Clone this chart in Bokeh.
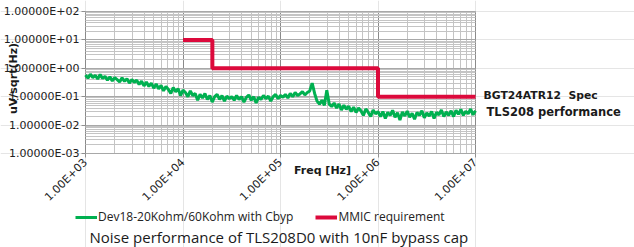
import math
from bokeh.plotting import figure
from bokeh.models import (FixedTicker, Legend, LegendItem, Label, LogAxis, Grid,
                          Range1d)
from bokeh.embed import file_html
from bokeh.resources import INLINE

# ---------------- data ----------------
noise_freq = [
    1.000e3, 1.059e3, 1.122e3, 1.189e3, 1.259e3, 1.334e3, 1.413e3, 1.496e3, 1.585e3, 1.679e3,
    1.778e3, 1.884e3, 1.995e3, 2.113e3, 2.239e3, 2.371e3, 2.512e3, 2.661e3, 2.818e3, 2.985e3,
    3.162e3, 3.350e3, 3.548e3, 3.758e3, 3.981e3, 4.217e3, 4.467e3, 4.732e3, 5.012e3, 5.309e3,
    5.623e3, 5.957e3, 6.310e3, 6.683e3, 7.079e3, 7.499e3, 7.943e3, 8.414e3, 8.913e3, 9.441e3,
    1.000e4, 1.059e4, 1.122e4, 1.189e4, 1.259e4, 1.334e4, 1.413e4, 1.496e4, 1.585e4, 1.679e4,
    1.778e4, 1.884e4, 1.995e4, 2.113e4, 2.239e4, 2.371e4, 2.512e4, 2.661e4, 2.818e4, 2.985e4,
    3.162e4, 3.350e4, 3.548e4, 3.758e4, 3.981e4, 4.217e4, 4.467e4, 4.732e4, 5.012e4, 5.309e4,
    5.623e4, 5.957e4, 6.310e4, 6.683e4, 7.079e4, 7.499e4, 7.943e4, 8.414e4, 8.913e4, 9.441e4,
    1.000e5, 1.059e5, 1.122e5, 1.189e5, 1.259e5, 1.334e5, 1.413e5, 1.496e5, 1.585e5, 1.679e5,
    1.778e5, 1.884e5, 1.995e5, 2.113e5, 2.239e5, 2.371e5, 2.512e5, 2.661e5, 2.818e5, 2.985e5,
    3.162e5, 3.350e5, 3.548e5, 3.758e5, 3.981e5, 4.217e5, 4.467e5, 4.732e5, 5.012e5, 5.309e5,
    5.623e5, 5.957e5, 6.310e5, 6.683e5, 7.079e5, 7.499e5, 7.943e5, 8.414e5, 8.913e5, 9.441e5,
    1.000e6, 1.059e6, 1.122e6, 1.189e6, 1.259e6, 1.334e6, 1.413e6, 1.496e6, 1.585e6, 1.679e6,
    1.778e6, 1.884e6, 1.995e6, 2.113e6, 2.239e6, 2.371e6, 2.512e6, 2.661e6, 2.818e6, 2.985e6,
    3.162e6, 3.350e6, 3.548e6, 3.758e6, 3.981e6, 4.217e6, 4.467e6, 4.732e6, 5.012e6, 5.309e6,
    5.623e6, 5.957e6, 6.310e6, 6.683e6, 7.079e6, 7.499e6, 7.943e6, 8.414e6, 8.913e6, 9.441e6,
    1.000e7,
]

noise_uv = [
    0.58, 0.45, 0.62, 0.47, 0.56, 0.42, 0.60, 0.44, 0.52, 0.38,
    0.50, 0.36, 0.47, 0.40, 0.33, 0.46, 0.35, 0.43, 0.30, 0.40,
    0.32, 0.38, 0.27, 0.35, 0.24, 0.33, 0.23, 0.30, 0.20, 0.28,
    0.19, 0.25, 0.16, 0.23, 0.18, 0.13, 0.21, 0.15, 0.19, 0.11,
    0.17, 0.14, 0.10, 0.16, 0.11, 0.13, 0.075, 0.12, 0.09, 0.13,
    0.08, 0.11, 0.065, 0.10, 0.12, 0.08, 0.11, 0.07, 0.105, 0.085,
    0.10, 0.075, 0.11, 0.08, 0.10, 0.065, 0.095, 0.115, 0.075, 0.10,
    0.06, 0.095, 0.08, 0.11, 0.085, 0.105, 0.07, 0.10, 0.12, 0.085,
    0.11, 0.095, 0.12, 0.09, 0.13, 0.10, 0.14, 0.11, 0.125, 0.15,
    0.115, 0.14, 0.16, 0.30, 0.13, 0.07, 0.055, 0.075, 0.05, 0.17,
    0.055, 0.045, 0.06, 0.04, 0.055, 0.034, 0.05, 0.036, 0.046, 0.03,
    0.043, 0.028, 0.04, 0.032, 0.022, 0.037, 0.028, 0.02, 0.034, 0.025,
    0.03, 0.02, 0.03, 0.017, 0.028, 0.022, 0.033, 0.019, 0.027, 0.015,
    0.029, 0.021, 0.031, 0.019, 0.026, 0.016, 0.028, 0.022, 0.032, 0.018,
    0.027, 0.021, 0.03, 0.017, 0.028, 0.023, 0.034, 0.02, 0.029, 0.022,
    0.032, 0.02, 0.033, 0.024, 0.036, 0.022, 0.031, 0.025, 0.037, 0.023,
    0.032,
]

req_freq = [1e4, 2e4, 1e6, 1e7]
req_uv = [10, 1, 0.1, 0.1]

x_ticks = [1e3, 1e4, 1e5, 1e6, 1e7]
x_tick_labels = ["1.00E+03", "1.00E+04", "1.00E+05", "1.00E+06", "1.00E+07"]
y_ticks = [1e-3, 1e-2, 1e-1, 1e0, 1e1, 1e2]
y_tick_labels = ["1.00000E-03", "1.00000E-02", "1.00000E-01",
                 "1.00000E+00", "1.00000E+01", "1.00000E+02"]

series_names = ["Dev18-20Kohm/60Kohm with Cbyp", "MMIC requirement"]
x_title = "Freq [Hz]"
y_title = "uV/sqrt(Hz)"
caption = "Noise performance of TLS208D0 with 10nF bypass cap"
notes = ["BGT24ATR12\u00a0\u00a0Spec", "TLS208 performance"]

# ---------------- layout geometry (pixels) ----------------
W, H = 634, 247
PL, PR, PT, PB = 85, 475, 11, 153      # plot-area edges inside the canvas
x_lo, x_hi = x_ticks[0], x_ticks[-1]
y_lo, y_hi = y_ticks[0], y_ticks[-1]
dx = math.log10(x_hi / x_lo) / (PR - PL)
dy = math.log10(y_hi / y_lo) / (PB - PT)

GREEN = "#00b050"
RED = "#dc0a3c"
TXT = "#1a1a1a"

# the frame spans the whole canvas so that every text can sit inside it
p = figure(width=W, height=H, x_axis_type="log", y_axis_type="log",
           x_range=Range1d(x_lo / 10 ** (PL * dx), x_hi * 10 ** ((W - PR) * dx)),
           y_range=Range1d(y_lo / 10 ** ((H - PB) * dy), y_hi * 10 ** (PT * dy)),
           x_axis_location=None, y_axis_location=None,
           output_backend="svg", toolbar_location=None,
           min_border=0)
p.background_fill_color = "white"
p.border_fill_color = "white"
p.outline_line_color = None

x_minor = [m * d for d in x_ticks[:-1] for m in range(2, 10)]
y_minor = [m * d for d in y_ticks[:-1] for m in range(2, 10)]
xt = FixedTicker(ticks=x_ticks, minor_ticks=x_minor)
yt = FixedTicker(ticks=y_ticks, minor_ticks=y_minor)

def style_axis(ax):
    ax.axis_line_color = None
    ax.major_tick_line_color = "#909090"
    ax.major_tick_out = 4
    ax.major_tick_in = 0
    ax.minor_tick_line_color = None
    ax.major_label_text_font = "DejaVu Sans"
    ax.major_label_text_font_size = "11px"
    ax.major_label_text_color = "#222222"

xaxis = LogAxis(ticker=xt, fixed_location=y_lo, bounds=(x_lo, x_hi),
                major_label_overrides=dict(zip(x_ticks, x_tick_labels)),
                major_label_orientation=math.pi / 4, major_label_standoff=3)
yaxis = LogAxis(ticker=yt, fixed_location=x_lo, bounds=(y_lo, y_hi),
                major_label_overrides=dict(zip(y_ticks, y_tick_labels)),
                major_label_standoff=2)
style_axis(xaxis)
style_axis(yaxis)
p.add_layout(xaxis, "below")
p.add_layout(yaxis, "left")

gx = Grid(dimension=0, ticker=xt, bounds=(x_lo, x_hi), cross_bounds=(y_lo, y_hi),
          grid_line_color="#8a8a8a", minor_grid_line_color="#c4c4c4")
gy = Grid(dimension=1, ticker=yt, bounds=(y_lo, y_hi), cross_bounds=(x_lo, x_hi),
          grid_line_color="#a8a8a8", minor_grid_line_color="#c4c4c4")
p.add_layout(gx)
p.add_layout(gy)

r_noise = p.line(noise_freq, noise_uv, line_color=GREEN, line_width=3)
r_req = p.step(req_freq, req_uv, mode="after", line_color=RED, line_width=4)

legend = Legend(items=[LegendItem(label=series_names[0], renderers=[r_noise]),
                       LegendItem(label=series_names[1], renderers=[r_req])],
                orientation="horizontal", location=(75, 22),
                padding=0, margin=0, spacing=22, label_standoff=1,
                glyph_width=22, glyph_height=14, label_height=14,
                label_text_font="Open Sans", label_text_font_size="12px",
                label_text_color="#222222",
                background_fill_alpha=0, border_line_color=None)
p.add_layout(legend, "center")

def add_label(text, cx, cy, font, size, bold=False, align="left", angle=0):
    # cx, cy: canvas pixels from the top-left corner (vertical middle of text)
    p.add_layout(Label(x=cx, y=H - cy, x_units="screen", y_units="screen",
                       text=text, text_font=font, text_font_size=size,
                       text_font_style="bold" if bold else "normal",
                       text_align=align, text_baseline="middle",
                       text_color=TXT, angle=angle))

add_label(x_title, 322, 169.5, "DejaVu Sans", "11px", bold=True, align="center")
add_label(y_title, 13, 78, "DejaVu Sans", "11px", bold=True, align="center",
          angle=math.pi / 2)
add_label(notes[0], 483, 95, "DejaVu Sans", "10.8px", bold=True)
add_label(notes[1], 486, 111.5, "DejaVu Sans", "11.5px", bold=True)
add_label(caption, 89, 236, "Open Sans", "15px")

open("out.html", "w").write(file_html(p, INLINE))
